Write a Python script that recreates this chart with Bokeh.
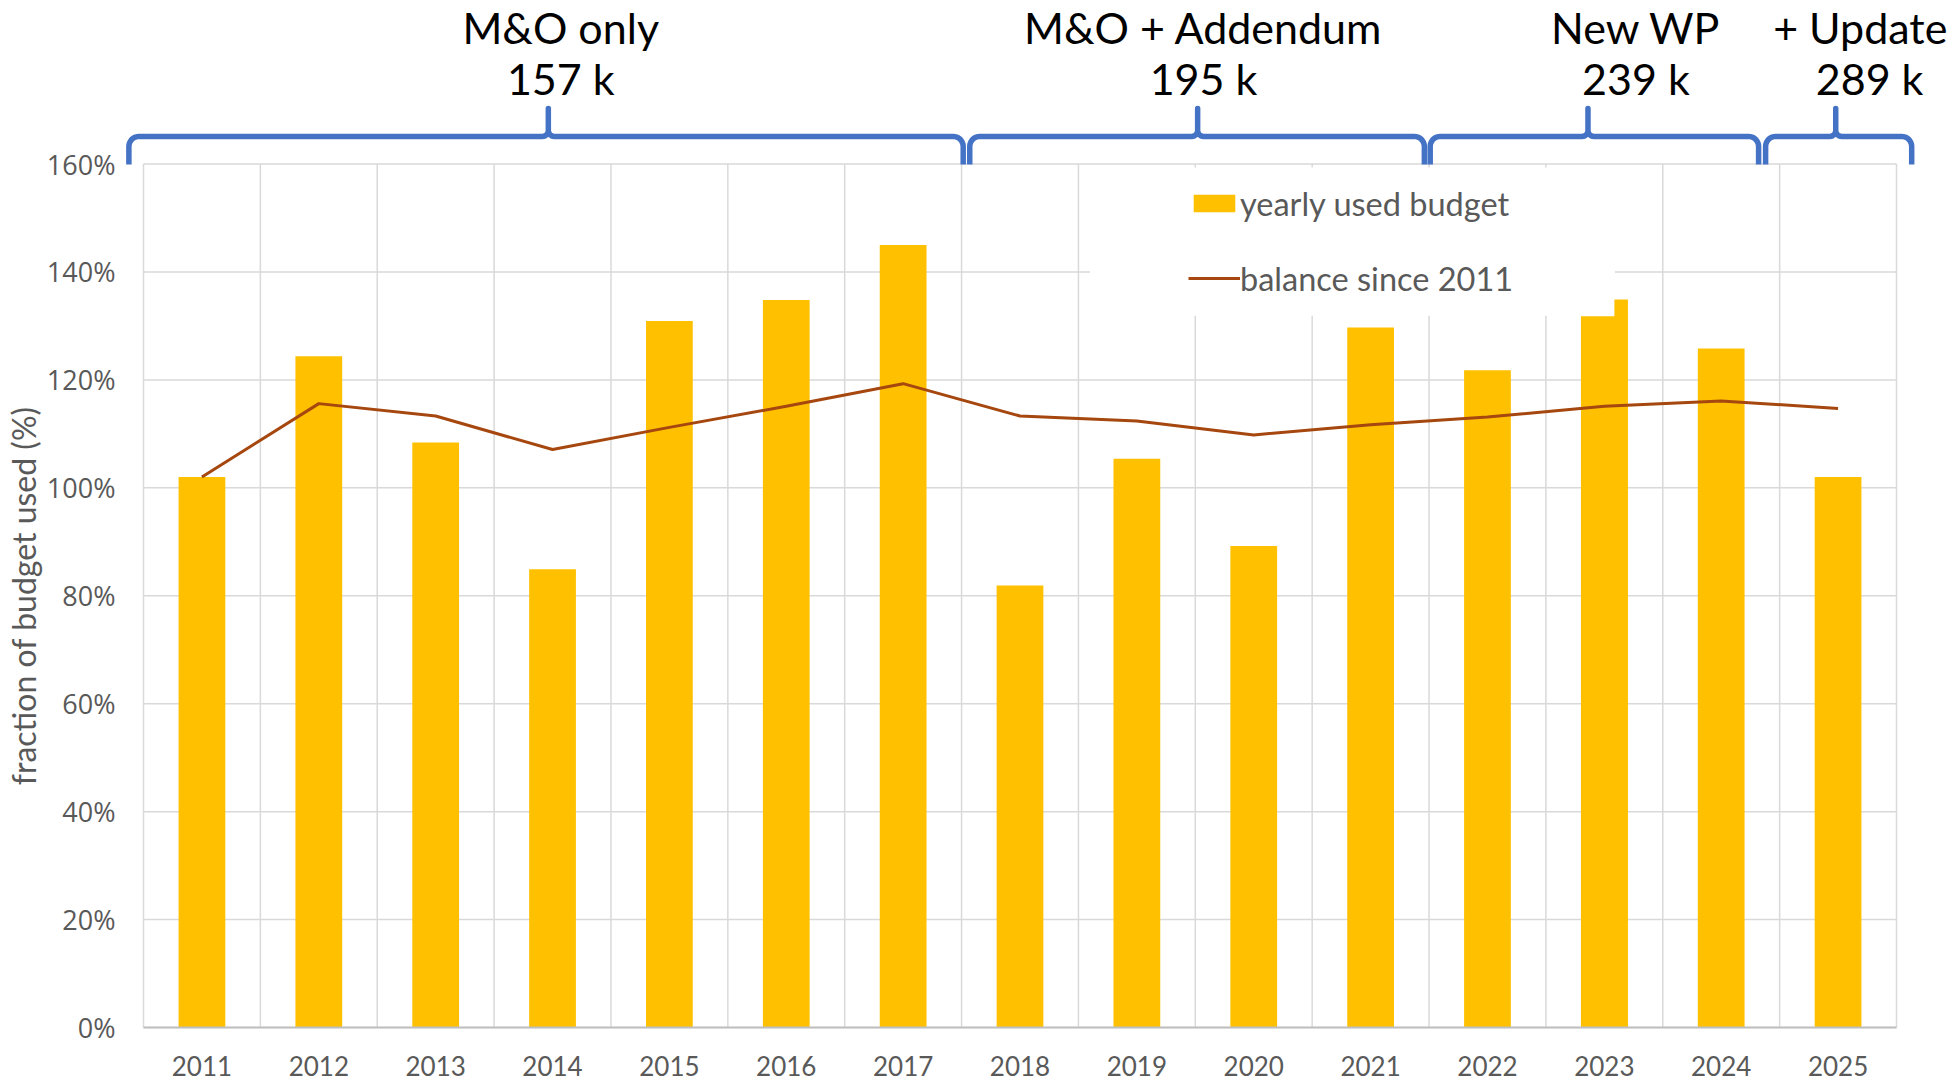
import numpy as np
from bokeh.plotting import figure
from bokeh.models import Range1d, Legend, LegendItem
from bokeh.core.properties import value
from bokeh.embed import file_html
from bokeh.resources import INLINE

# ---------------- data ----------------
years = [2011, 2012, 2013, 2014, 2015, 2016, 2017, 2018, 2019, 2020, 2021, 2022, 2023, 2024, 2025]
year_labels = ["2011", "2012", "2013", "2014", "2015", "2016", "2017", "2018", "2019",
               "2020", "2021", "2022", "2023", "2024", "2025"]
used_budget = [102.0, 124.4, 108.4, 84.9, 130.9, 134.8, 145.0, 81.9, 105.4, 89.2, 129.7, 121.8, 131.8, 125.8, 102.0]
step_years = [2023]            # small step drawn on top of the 2023 bar
step_values = [134.9]
balance = [102.0, 115.6, 113.3, 107.1, 111.2, 115.1, 119.3, 113.3, 112.4, 109.8, 111.7, 113.1, 115.1, 116.1, 114.7]
y_ticks = [0, 20, 40, 60, 80, 100, 120, 140, 160]
y_tick_labels = ["0%", "20%", "40%", "60%", "80%", "100%", "120%", "140%", "160%"]
y_title = "fraction of budget used (%)"

phase_names = ["M&O only", "M&O + Addendum", "New WP", "+ Update"]
phase_budgets = ["157 k", "195 k", "239 k", "289 k"]
phase_start = [2010.375, 2017.57, 2021.51, 2024.38]
phase_end = [2017.514, 2021.46, 2024.32, 2025.63]
phase_tip = [2013.964, 2019.52, 2022.86, 2024.98]
phase_name_x = [2014.07, 2019.57, 2023.27, 2025.19]
phase_budget_x = [2014.07, 2019.57, 2023.27, 2025.27]

# ---------------- layout ----------------
W, H = 1957, 1083
PL, PT, PB = 143, 163.5, 1027          # plot area left / top / bottom (canvas px)
X0, X1 = 2010.5, 2025.5
Y0, Y1 = 0, 160
px_x = 1753 / (X1 - X0)
px_y = (PB - PT) / (Y1 - Y0)
x_range = Range1d(X0 - PL / px_x, X0 + (W - PL) / px_x)
y_range = Range1d(Y0 - (H - PB) / px_y, Y1 + PT / px_y)

BAR = "#FFC000"
LINE = "#A5470E"
GRID = "#D9D9D9"
TXT = "#595959"
BLUE = "#4472C4"

p = figure(width=W, height=H, x_range=x_range, y_range=y_range,
           output_backend="svg", toolbar_location=None,
           x_axis_location=None, y_axis_location=None,
           min_border=0, min_border_left=0, min_border_right=0,
           min_border_top=0, min_border_bottom=0)
p.outline_line_color = None
p.background_fill_color = "white"
p.border_fill_color = "white"
p.xgrid.visible = False
p.ygrid.visible = False

# grid lines of the plot area
vx = [X0 + i for i in range(16)]
p.segment(x0=vx, x1=vx, y0=[Y0] * len(vx), y1=[Y1] * len(vx), line_color=GRID, line_width=1.5)
p.segment(x0=[X0] * len(y_ticks), x1=[X1] * len(y_ticks), y0=y_ticks, y1=y_ticks,
          line_color=GRID, line_width=1.5)

# white legend background box (hides grid behind the legend)
p.quad(left=[2018.60], right=[2023.09], bottom=[131.9], top=[159.35],
       fill_color="white", line_color=None)

# data
bars = p.vbar(x=years, top=used_budget, width=0.40, fill_color=BAR, line_color=None)
p.vbar(x=[y + 0.144 for y in step_years], top=step_values, width=0.116,
       fill_color=BAR, line_color=None)
line = p.line(x=years, y=balance, line_color=LINE, line_width=3, line_join="round")

# x axis line
p.segment(x0=[X0], x1=[X1], y0=[0], y1=[0], line_color="#BFBFBF", line_width=2)

# tick labels
p.text(x=years, y=[-(1065 - PB) / px_y] * len(years), text=year_labels,
       text_align="center", text_baseline="middle",
       text_font=value("Lato"), text_font_size="26px", text_color=TXT)
p.text(x=[X0 - 28 / px_x] * len(y_ticks), y=y_ticks, text=y_tick_labels,
       text_align="right", text_baseline="middle",
       text_font=value("Open Sans"), text_font_size="27px", text_color=TXT)
p.text(x=[X0 - (PL - 22.5) / px_x], y=[(Y0 + Y1) / 2], text=[y_title], angle=np.pi / 2,
       text_align="center", text_baseline="middle",
       text_font=value("Lato"), text_font_size="32px", text_color=TXT)

legend = Legend(items=[LegendItem(label="yearly used budget", renderers=[bars]),
                       LegendItem(label="balance since 2011", renderers=[line])],
                location=(1188, 783), orientation="vertical",
                background_fill_alpha=0, border_line_alpha=0,
                padding=0, margin=0, spacing=31,
                glyph_width=52, glyph_height=22, label_height=44,
                label_standoff=0,
                label_text_font="Lato", label_text_font_size="32.5px",
                label_text_color=TXT)
p.add_layout(legend)


# braces
def brace(xa, xb, xt, y_base=159.9, y_bar=165.1, y_top=170.3, r=10, rt=6):
    rx, ry = r / px_x, r / px_y
    tx, ty = rt / px_x, rt / px_y
    pts = [(xa, y_base)]
    for t in np.linspace(np.pi, np.pi / 2, 10):
        pts.append((xa + rx + rx * np.cos(t), y_bar - ry + ry * np.sin(t)))
    for t in np.linspace(-np.pi / 2, 0, 8):
        pts.append((xt - tx + tx * np.cos(t), y_bar + ty + ty * np.sin(t)))
    pts.append((xt, y_top))
    for t in np.linspace(np.pi, 1.5 * np.pi, 8):
        pts.append((xt + tx + tx * np.cos(t), y_bar + ty + ty * np.sin(t)))
    for t in np.linspace(np.pi / 2, 0, 10):
        pts.append((xb - rx + rx * np.cos(t), y_bar - ry + ry * np.sin(t)))
    pts.append((xb, y_base))
    return [float(a) for a, _ in pts], [float(b) for _, b in pts]


bx, by = [], []
for xa, xb, xt in zip(phase_start, phase_end, phase_tip):
    xs, ys = brace(xa, xb, xt)
    bx.append(xs)
    by.append(ys)
p.multi_line(xs=bx, ys=by, line_color=BLUE, line_width=5.5, line_join="round", line_cap="butt")

p.text(x=phase_name_x, y=[160 + (PT - 26.5) / px_y] * 4, text=phase_names,
       text_align="center", text_baseline="middle",
       text_font=value("Lato"), text_font_size="43px", text_color="black")
p.text(x=phase_budget_x, y=[160 + (PT - 78) / px_y] * 4, text=phase_budgets,
       text_align="center", text_baseline="middle",
       text_font=value("Lato"), text_font_size="43px", text_color="black")

with open("out.html", "w") as f:
    f.write(file_html(p, INLINE))
